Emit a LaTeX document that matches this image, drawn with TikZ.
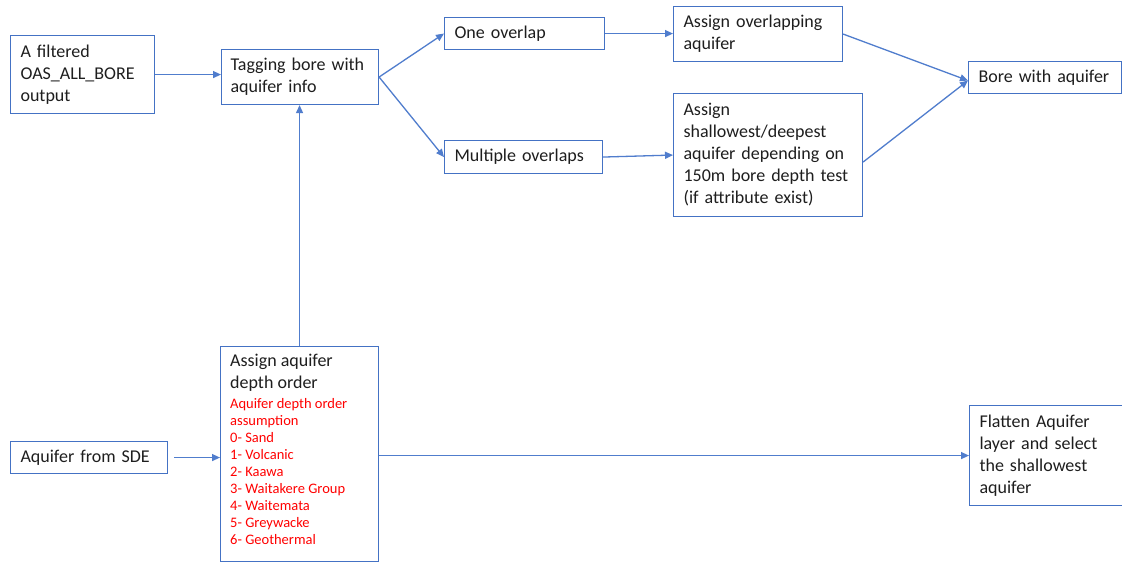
\documentclass[tikz,border=0pt]{standalone}
\usepackage{fontspec}
\setmainfont{Carlito}
\usetikzlibrary{arrows.meta,calc}
\definecolor{boxblue}{RGB}{68,114,196}
\definecolor{arrblue}{RGB}{80,125,205}
\definecolor{txt}{RGB}{30,30,30}
\definecolor{redtxt}{RGB}{255,0,0}
\begin{document}
\begin{tikzpicture}[x=1pt,y=-1pt,
  box/.style={draw=boxblue, line width=1.1pt, anchor=north west, align=left,
    inner xsep=9pt, inner ysep=0pt, text=txt,
    font=\fontsize{18}{22}\selectfont},
  arr/.style={draw=arrblue, line width=1.3pt, -{Triangle[length=8pt,width=7pt]}}]
\useasboundingbox (0,0) rectangle (1122,562);
\fill[white] (0,0) rectangle (1122,562);

\node[box, minimum width=144pt, minimum height=78pt, text width=124pt, inner xsep=10pt] (f) at (10,35) {A filtered\\OAS\_ALL\_BORE\\output};
\node[box, minimum width=157pt, minimum height=55pt, text width=139pt] (tag) at (221,49) {Tagging bore with\\aquifer info};
\node[box, minimum width=158pt, minimum height=32pt, text width=140pt, inner xsep=10pt] (one) at (444,17) {One overlap};
\node[box, minimum width=169pt, minimum height=55pt, text width=149pt, inner xsep=10pt] (asov) at (673,6) {Assign overlapping\\aquifer};
\node[box, minimum width=158pt, minimum height=33pt, text width=138pt, inner xsep=10pt] (multi) at (444,140) {Multiple overlaps};
\node[box, minimum width=189pt, minimum height=123pt, text width=169pt, inner xsep=10pt] (assh) at (673,93) {Assign\\shallowest/deepest\\aquifer depending on\\150m bore depth test\\(if attribute exist)};
\node[box, minimum width=153pt, minimum height=32pt, text width=133pt, inner xsep=10pt] (bore) at (968,61) {Bore with aquifer};
\node[box, minimum width=157pt, minimum height=32pt, text width=137pt, inner xsep=10pt] (sde) at (10,441) {Aquifer from SDE};
\node[box, minimum width=158pt, minimum height=215pt, text width=140pt] (depth) at (220,346) {};
\node[anchor=north west, inner sep=0pt, align=left, text=txt, font=\fontsize{18}{22}\selectfont] (depthtxt) at (230,354)
  {Assign aquifer\\depth order};
\node[anchor=north west, inner sep=0pt, align=left, text=redtxt, font=\fontsize{14.5}{17}\selectfont] (order) at (230,398)
  {Aquifer depth order\\assumption\\0- Sand\\1- Volcanic\\2- Kaawa\\3- Waitakere Group\\4- Waitemata\\5- Greywacke\\6- Geothermal};
\node[box, minimum width=153pt, minimum height=100pt, text width=133pt, inner xsep=10pt] (flat) at (969,405) {Flatten Aquifer\\layer and select\\the shallowest\\aquifer};

\draw[arr] (f.east) -- (f.east -| tag.west);
\draw[arr] (tag.east) -- (one.west);
\draw[arr] (tag.east) -- (multi.west);
\draw[arr] (one.east) -- (one.east -| asov.west);
\draw[arr] (multi.east) -- (assh.west);
\coordinate (borein) at ([yshift=-3pt]bore.west);
\draw[arr] (asov.east) -- (borein);
\draw[arr] ([yshift=-7pt]assh.east) -- (borein);
\draw[arr] (depth.north) -- (depth.north |- tag.south);
\draw[arr, shorten <=6pt] (sde.east) -- (sde.east -| depth.west);
\draw[arr] (flat.west -| depth.east) -- (flat.west);
\end{tikzpicture}
\end{document}
